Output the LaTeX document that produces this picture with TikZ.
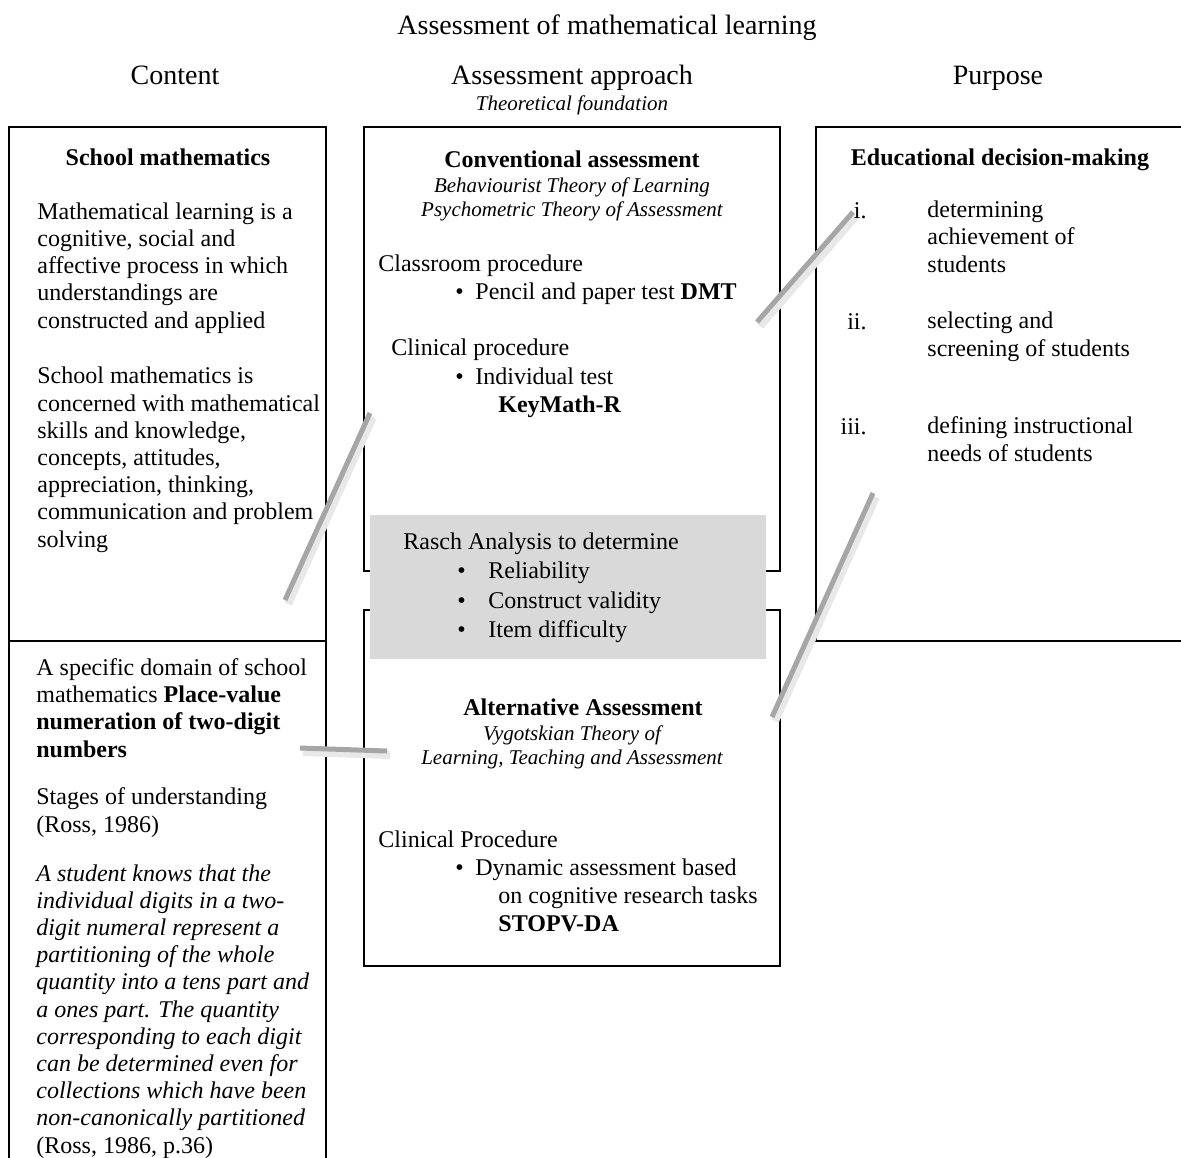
\documentclass[tikz,border=0pt]{standalone}
\usepackage{fontspec}
\setmainfont{Liberation Serif}
\tikzset{
  frame/.style={draw=black, line width=1pt},
  txt/.style={anchor=base west, inner sep=0pt, align=left, font=\fontsize{12}{13.6}\selectfont},
  mid/.style={anchor=base, inner sep=0pt, align=center, font=\fontsize{12}{13.6}\selectfont},
  theory/.style={anchor=base, inner sep=0pt, align=center, font=\fontsize{10.5}{11.6}\selectfont\itshape},
  head/.style={anchor=base, inner sep=0pt, font=\fontsize{14}{16}\selectfont},
  roman/.style={anchor=base east, inner sep=0pt, font=\fontsize{12}{13.6}\selectfont},
  link/.style={draw=black!35, line width=2.5pt},
  linkshade/.style={draw=black!9, line width=4pt},
}
\begin{document}
\begin{tikzpicture}[x=0.5pt, y=-0.5pt]
\useasboundingbox (0,0) rectangle (1181,1157);

% boxes
\draw[frame] (9,127) rectangle (326,641);
\draw[frame] (9,641) rectangle (326,1175);
\draw[frame] (364,127) rectangle (780,571);
\draw[frame] (364,610) rectangle (780,966);
\draw[frame] (816,127) rectangle (1195,641);
% rasch box over both approaches
\fill[black!15] (370,515) rectangle (766,659);

% links between the columns
\coordinate (cA) at (285,600);  \coordinate (aA) at (370,413);
\coordinate (aP) at (757,322);  \coordinate (pA) at (853,212);
\coordinate (bP) at (772,717);  \coordinate (pB) at (873,493);
\coordinate (cB) at (300,748);  \coordinate (bC) at (387,751);
\foreach \from/\to in {cA/aA, aP/pA, bP/pB, cB/bC} {
	\draw[linkshade, transform canvas={shift={(1.5pt,-2pt)}}] (\from) -- (\to);
	\draw[link] (\from) -- (\to);
}

% headings
\node[head] (title) at (607,34) {Assessment of mathematical learning};
\node[head] (hcontent) at (175,84) {Content};
\node[head] (happroach) at (572,84) {Assessment approach};
\node[theory] (hfound) at (572,110) {Theoretical foundation};
\node[head] (hpurpose) at (998,84) {Purpose};

% content, top (multi-line nodes sit on their last line)
\node[mid] (school) at (168,165) {\textbf{School mathematics}};
\node[txt] (learning) at (37,328) {Mathematical learning is a\\cognitive, social and\\affective process in which\\understandings are\\constructed and applied};
\node[txt] (concern) at (37,547) {School mathematics is\\concerned with mathematical\\skills and knowledge,\\concepts, attitudes,\\appreciation, thinking,\\communication and problem\\solving};

% content, bottom
\node[txt] (domain) at (36,757) {A specific domain of school\\mathematics \textbf{Place-value}\\\textbf{numeration of two-digit}\\\textbf{numbers}};
\node[txt] (stages) at (36,832) {Stages of understanding\\(Ross, 1986)};
\node[txt] (quote) at (36,1153) {\itshape A student knows that the\\\itshape individual digits in a two-\\\itshape digit numeral represent a\\\itshape partitioning of the whole\\\itshape quantity into a tens part and\\\itshape a ones part. The quantity\\\itshape corresponding to each digit\\\itshape can be determined even for\\\itshape collections which have been\\\itshape non-canonically partitioned\\(Ross, 1986, p.36)};

% conventional assessment
\node[mid] (conv) at (572,167) {\textbf{Conventional assessment}};
\node[theory] (convth) at (572,216) {Behaviourist Theory of Learning\\Psychometric Theory of Assessment};
\node[txt] (class) at (378,271) {Classroom procedure};
\node[txt] (bdmt) at (455,299) {•};
\node[txt] (dmt) at (475,299) {Pencil and paper test \textbf{DMT}};
\node[txt] (clin) at (391,355) {Clinical procedure};
\node[txt] (bkey) at (455,384) {•};
\node[txt] (indiv) at (475,384) {Individual test};
\node[txt] (key) at (498,412) {\textbf{KeyMath-R}};

% rasch analysis
\node[txt] (rasch) at (403,549) {Rasch Analysis to determine};
\foreach \item [count=\k] in {Reliability, Construct validity, Item difficulty} {
	\node[txt] (rb\k) at (457,549+29.5*\k) {•};
	\node[txt] (ri\k) at (488,549+29.5*\k) {\item};
}

% alternative assessment
\node[mid] (alt) at (583,715) {\textbf{Alternative Assessment}};
\node[theory] (altth) at (572,764) {Vygotskian Theory of\\Learning, Teaching and Assessment};
\node[txt] (clinp) at (378,847) {Clinical Procedure};
\node[txt] (bdyn) at (455,875) {•};
\node[txt] (dyn) at (475,875) {Dynamic assessment based};
\node[txt] (tasks) at (498,931) {on cognitive research tasks\\\textbf{STOPV-DA}};

% purpose
\node[mid] (edu) at (1000,165) {\textbf{Educational decision-making}};
\node[roman] (r1) at (867,218) {i.};
\node[txt] (p1) at (927,272) {determining\\achievement of\\students};
\node[roman] (r2) at (867,329) {ii.};
\node[txt] (p2) at (927,356) {selecting and\\screening of students};
\node[roman] (r3) at (867,434) {iii.};
\node[txt] (p3) at (927,461) {defining instructional\\needs of students};

\end{tikzpicture}
\end{document}
